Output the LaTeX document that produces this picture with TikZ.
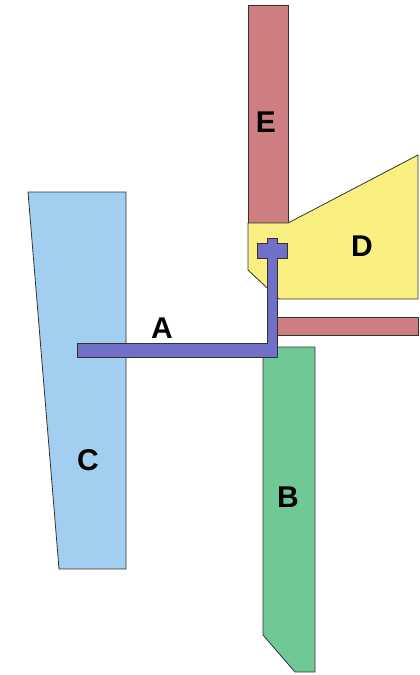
\documentclass[tikz,border=0pt]{standalone}
\usepackage{fontspec}
\setmainfont{Liberation Sans}
\usepackage{tikz}
\usetikzlibrary{positioning}
\definecolor{partred}{RGB}{206,126,128}
\definecolor{partyellow}{RGB}{250,240,130}
\definecolor{partgreen}{RGB}{112,200,150}
\definecolor{partblue}{RGB}{162,206,240}
\definecolor{partviolet}{RGB}{112,112,200}
\definecolor{partline}{RGB}{50,50,50}

\begin{document}
\begin{tikzpicture}[x=1pt, y=-1pt,
        part/.style={draw=partline, line width=0.8pt, line join=miter},
        partlbl/.style={font=\fontsize{30}{30}\selectfont\bfseries, text=black, inner sep=0pt}]
        \useasboundingbox (0,0) rectangle (420,675);
        % C
        \draw[part, fill=partblue] (28,192) -- (126,192) -- (126,569) -- (59,569) -- cycle;
        % E and the lower bar
        \draw[part, fill=partred] (248,5) rectangle (288,223);
        \draw[part, fill=partred] (272,317) rectangle (418,335);
        % D
        \draw[part, fill=partyellow] (248,223) -- (288,223) -- (418,155) -- (418,299)
            -- (279,299) -- (248,270) -- cycle;
        % B
        \draw[part, fill=partgreen] (263,347) -- (315,347) -- (315,672) -- (295,672)
            -- (263,635) -- cycle;
        % A
        \draw[part, fill=partviolet] (77,343) -- (267,343) -- (267,258) -- (257,258)
            -- (257,243) -- (267,243) -- (267,238) -- (277,238) -- (277,243) -- (287,243)
            -- (287,258) -- (277,258) -- (277,357) -- (77,357) -- cycle;
        \node[partlbl] (lblA) at (162,328) {A};
        \node[partlbl] (lblB) at (288,497) {B};
        \node[partlbl] (lblC) at (88,460) {C};
        \node[partlbl] (lblD) at (362,246) {D};
        \node[partlbl] (lblE) at (266,122) {E};
      \end{tikzpicture}
\end{document}
